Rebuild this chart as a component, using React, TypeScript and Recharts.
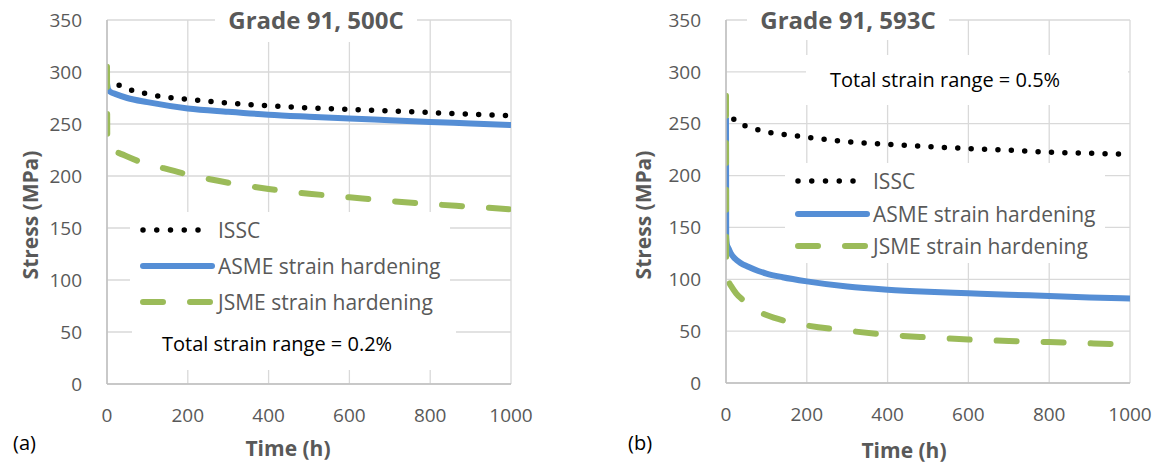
import { LineChart, Line, XAxis, YAxis, CartesianGrid } from 'recharts';

const TIME_TICKS = [0, 200, 400, 600, 800, 1000];
const STRESS_TICKS = [0, 50, 100, 150, 200, 250, 300, 350];

// Grade 91, 500C - total strain range 0.2%
const issc500Time = [0, 7, 40, 71, 104, 137, 170, 203, 236, 271, 304, 400, 500, 600, 700, 800, 900, 1000];
const issc500Stress = [292.5, 290.7, 285.9, 281, 278.8, 276.2, 274.8, 273.5, 272.4, 271, 270, 267.5, 265.5, 264, 262.5, 261, 259.5, 258];
const asme500Time = [0, 2, 5, 10, 20, 50, 100, 200, 300, 400, 500, 600, 700, 800, 900, 1000];
const asme500Stress = [289, 284, 282, 280.5, 279, 275, 271, 265, 261.8, 259, 257, 255.2, 253.6, 252, 250.5, 249];
const jsme500Time = [0, 1, 30, 80, 140, 200, 300, 400, 500, 600, 700, 800, 900, 1000];
const jsme500Stress = [305, 226, 222, 214, 207.5, 201.5, 193.5, 187.5, 183, 179.5, 176, 173, 170.5, 168];

// Grade 91, 593C - total strain range 0.5%
const issc593Time = [0, 6, 25, 55, 88, 120, 155, 190, 220, 320, 420, 500, 600, 700, 800, 900, 1000];
const issc593Stress = [265, 261.5, 252, 247, 243.3, 240.7, 239, 237.5, 236, 232, 229.7, 228, 226, 224.5, 222.5, 221.5, 220.5];
const asme593Time = [0, 0.5, 2, 6, 12, 22, 35, 55, 80, 100, 140, 200, 300, 400, 500, 600, 700, 800, 900, 1000];
const asme593Stress = [256, 140, 134, 130, 125, 120, 116, 112, 108, 105.5, 102, 98, 93, 90, 88, 86.5, 85, 84, 82.5, 81.5];
const jsme593Time = [0, 0.5, 3, 6, 15, 25, 42, 70, 100, 150, 200, 300, 400, 500, 600, 700, 800, 900, 1000];
const jsme593Stress = [277, 118, 104, 99, 92, 86.5, 80, 71, 65.5, 59.5, 55.5, 50.5, 46.5, 44, 42, 40.5, 39.5, 38.3, 37];

const SERIES_NAMES = ['ISSC', 'ASME strain hardening', 'JSME strain hardening'];

const zip = (t: number[], s: number[]) => t.map((x, i) => ({ t: x, s: s[i] }));

const STYLES: Record<string, any> = {
  ISSC: { stroke: '#000000', strokeWidth: 5.5, strokeDasharray: '0 13.4', strokeLinecap: 'round' },
  'ASME strain hardening': { stroke: '#558ED5', strokeWidth: 6 },
  'JSME strain hardening': { stroke: '#9BBB59', strokeWidth: 6, strokeDasharray: '20 27', strokeLinecap: 'round' },
};

const GREY = '#595959';
const FONT = '"Open Sans", sans-serif';

const LegendSymbol = ({ name }: { name: string }) => {
  const st = STYLES[name];
  const isDot = name === 'ISSC';
  return (
    <svg width={75} height={12} style={{ display: 'block', flex: 'none' }}>
      <line
        x1={3}
        x2={isDot ? 58.5 : 72}
        y1={6}
        y2={6}
        stroke={st.stroke}
        strokeWidth={st.strokeWidth}
        strokeDasharray={isDot ? '0 13.75' : st.strokeDasharray}
        strokeLinecap="round"
      />
    </svg>
  );
};

const Panel = ({ x, title, tag, strain, series, lay }: any) => (
  <div style={{ position: 'absolute', left: x, top: 0, width: 560, height: 470 }}>
    <LineChart width={560} height={470} margin={{ top: 20, right: lay.mr, bottom: lay.mb, left: lay.ml }}>
      <CartesianGrid stroke="#d9d9d9" strokeWidth={1.3} />
      <XAxis
        type="number"
        dataKey="t"
        domain={[0, 1000]}
        ticks={TIME_TICKS}
        tickSize={0}
        tickMargin={25}
        height={30}
        axisLine={{ stroke: '#bfbfbf', strokeWidth: 1.5 }}
        tick={{ fill: GREY, fontSize: 19, fontFamily: FONT }}
        allowDataOverflow
      />
      <YAxis
        type="number"
        dataKey="s"
        domain={[0, 350]}
        ticks={STRESS_TICKS}
        tickSize={0}
        tickMargin={25}
        width={60}
        axisLine={{ stroke: '#bfbfbf', strokeWidth: 1.5 }}
        tick={{ fill: GREY, fontSize: 19, fontFamily: FONT }}
        allowDataOverflow
      />
      {series.map((d: any, i: number) => (
        <Line
          key={SERIES_NAMES[i]}
          name={SERIES_NAMES[i]}
          data={d}
          dataKey="s"
          type="monotone"
          dot={false}
          activeDot={false}
          isAnimationActive={false}
          {...STYLES[SERIES_NAMES[i]]}
        />
      ))}
    </LineChart>

    {/* chart title */}
    <div
      style={{
        position: 'absolute', left: lay.titleX, top: 0, width: 202, height: lay.titleH,
        background: '#fff', textAlign: 'center', lineHeight: '40px',
        fontFamily: FONT, fontWeight: 700, fontSize: 24, color: GREY, whiteSpace: 'nowrap',
      }}
    >
      {title}
    </div>

    {/* legend */}
    <div
      style={{
        position: 'absolute', left: lay.legX, top: lay.legY, width: 320, height: lay.legH,
        background: '#fff', paddingTop: lay.legPad, boxSizing: 'border-box',
      }}
    >
      {SERIES_NAMES.map((n) => (
        <div key={n} style={{ display: 'flex', alignItems: 'center', height: lay.rowH, paddingLeft: 10 }}>
          <LegendSymbol name={n} />
          <span style={{ marginLeft: 3, fontFamily: FONT, fontSize: 21, color: GREY, whiteSpace: 'nowrap' }}>{n}</span>
        </div>
      ))}
    </div>

    {/* strain annotation */}
    <div
      style={{
        position: 'absolute', left: lay.strX, top: lay.strY, width: lay.strW, height: lay.strH,
        background: '#fff', lineHeight: lay.strH + 'px', paddingLeft: lay.strPad, boxSizing: 'border-box',
        fontFamily: FONT, fontSize: 20, color: '#000', whiteSpace: 'nowrap',
      }}
    >
      {strain}
    </div>

    {/* axis titles */}
    <div
      style={{
        position: 'absolute', left: lay.yLabX, top: 215, transform: 'translate(-50%, -50%) rotate(-90deg)',
        fontFamily: FONT, fontWeight: 700, fontSize: 21, color: GREY, whiteSpace: 'nowrap',
      }}
    >
      Stress (MPa)
    </div>
    <div
      style={{
        position: 'absolute', left: lay.xLabX, top: lay.xLabY, transform: 'translate(-50%, -50%)',
        fontFamily: FONT, fontWeight: 700, fontSize: 21, color: GREY, whiteSpace: 'nowrap',
      }}
    >
      Time (h)
    </div>
    <div
      style={{
        position: 'absolute', left: lay.tagX, top: 442, transform: 'translateY(-50%)',
        fontFamily: FONT, fontSize: 20, color: '#000',
      }}
    >
      {tag}
    </div>
  </div>
);

const App = () => (
  <div style={{ position: 'absolute', left: 0, top: 0, width: 1163, height: 470, background: '#fff', overflow: 'hidden' }}>
    <Panel
      x={0}
      title="Grade 91, 500C"
      tag="(a)"
      strain="Total strain range = 0.2%"
      series={[zip(issc500Time, issc500Stress), zip(asme500Time, asme500Stress), zip(jsme500Time, jsme500Stress)]}
      lay={{
        ml: 47, mr: 49, mb: 56,
        titleX: 215, titleH: 42,
        legX: 130, legY: 212, legH: 106, legPad: 0, rowH: 36,
        strX: 132, strY: 318, strW: 324, strH: 52, strPad: 30,
        yLabX: 30, xLabX: 288, xLabY: 448, tagX: 13,
      }}
    />
    <Panel
      x={600}
      title="Grade 91, 593C"
      tag="(b)"
      strain="Total strain range = 0.5%"
      series={[zip(issc593Time, issc593Stress), zip(asme593Time, asme593Stress), zip(jsme593Time, jsme593Stress)]}
      lay={{
        ml: 66, mr: 30, mb: 57,
        titleX: 147, titleH: 40,
        legX: 185, legY: 163, legH: 100, legPad: 2, rowH: 32.5,
        strX: 206, strY: 55, strW: 322, strH: 50, strPad: 24,
        yLabX: 43, xLabX: 304, xLabY: 450, tagX: 28,
      }}
    />
  </div>
);

export default App;
